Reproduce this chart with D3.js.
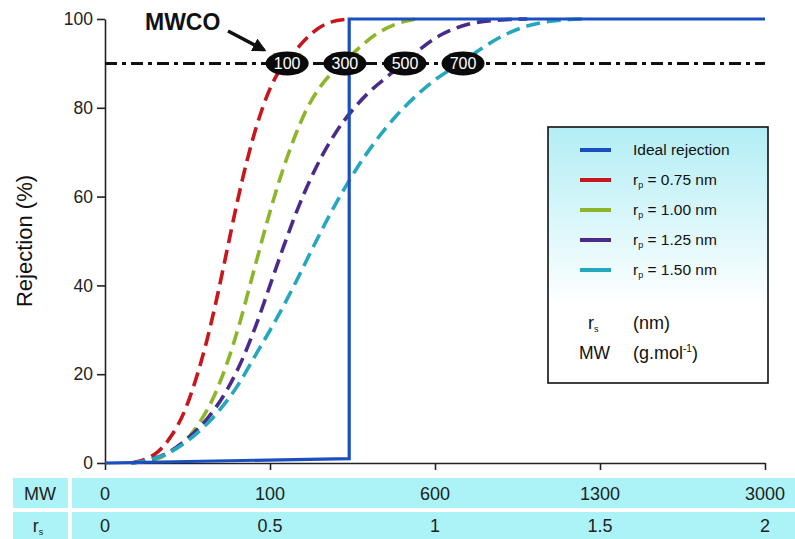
<!DOCTYPE html>
<html><head><meta charset="utf-8">
<script src="https://cdn.jsdelivr.net/npm/d3@7"></script>
<style>body{margin:0;background:#fff}svg{display:block}text{font-family:"Liberation Sans",Arial,sans-serif}</style>
</head><body>
<svg id="c" width="795" height="539"></svg>
<script>
// ---- data ----
const rsTicks = [0, 0.5, 1, 1.5, 2];
const mwTicks = [0, 100, 600, 1300, 3000];
const yTicks = [0, 20, 40, 60, 80, 100];
const ideal = [[0,0],[0.74,1],[0.74,100],[2,100]];
const redR = [0.08,0.12,0.16,0.20,0.24,0.28,0.31,0.34,0.37,0.40,0.43,0.46,0.49,0.52,0.552,0.59,0.63,0.68,0.74];
const redV = [0,0.8,2.5,6,11.5,20,28,37.5,48,58.5,68,76,82.5,87.3,90.5,94,97,99.2,100];
const greenR = [0.08,0.13,0.17,0.21,0.25,0.29,0.33,0.37,0.41,0.45,0.49,0.53,0.57,0.61,0.65,0.69,0.727,0.77,0.82,0.88,0.945];
const greenV = [0,0.5,1.3,3,5.5,9.5,15,22.5,32,43,54,64,72.5,79.5,84.5,88,90.5,93.5,96.5,98.8,100];
const purpleR = [0.08,0.14,0.19,0.25,0.31,0.37,0.42,0.46,0.50,0.54,0.58,0.62,0.66,0.70,0.75,0.80,0.855,0.909,0.96,1.02,1.10,1.20,1.28];
const purpleV = [0,0.8,2.3,5.5,10,16.5,24,31.5,40,48.5,56.5,63.5,69.5,74.5,79.5,83.5,87,90.3,93.5,96.5,98.8,99.8,100];
const cyanR = [0.08,0.15,0.21,0.28,0.34,0.40,0.46,0.52,0.58,0.64,0.70,0.76,0.82,0.88,0.94,1.0,1.05,1.085,1.14,1.2,1.27,1.35,1.45];
const cyanV = [0,1,3,6.8,11.3,17.2,24.8,32.5,41,50,58.5,66,72.5,78,82.5,86.3,88.8,90.5,93.3,96,98.2,99.5,100];
const mwcoLabels = ["100","300","500","700"];
const mwcoRs = [0.552, 0.727, 0.909, 1.085];
const mwcoLevel = 90;
const legendLabels = ["Ideal rejection","0.75","1.00","1.25","1.50"];
const colors = ["#1b4fbf","#c8161d","#8db52a","#4a2a8a","#26a7c0"];

// ---- chart ----
const svg = d3.select("#c");
const x = d3.scaleLinear().domain([0,2]).range([105,765]);
const y = d3.scaleLinear().domain([0,100]).range([463,19]);
const defs = svg.append("defs");

// bottom band
const band = svg.append("g");
[[478,508],[512,539]].forEach(([t,b])=>{
  band.append("rect").attr("x",13).attr("y",t).attr("width",55).attr("height",b-t).attr("fill","#abf3f7");
  band.append("rect").attr("x",72).attr("y",t).attr("width",723).attr("height",b-t).attr("fill","#abf3f7");
});
band.append("text").attr("x",40).attr("y",500).attr("text-anchor","middle").attr("font-size",18).attr("fill","#222").text("MW");
const rsLab = band.append("text").attr("x",38).attr("y",532).attr("text-anchor","middle").attr("font-size",18).attr("fill","#222");
rsLab.append("tspan").text("r");
rsLab.append("tspan").attr("font-size",9).attr("dy",3).text("s");
band.selectAll(".mw").data(rsTicks).join("text").attr("x",d=>x(d)).attr("y",500).attr("text-anchor","middle")
  .attr("font-size",18).attr("fill","#222").text((d,i)=>mwTicks[i]);
band.selectAll(".rs").data(rsTicks).join("text").attr("x",d=>x(d)).attr("y",532).attr("text-anchor","middle")
  .attr("font-size",18).attr("fill","#222").text(d=>d);

// axes
const gx = svg.append("g").attr("transform","translate(0,463)")
  .call(d3.axisBottom(x).tickValues(rsTicks).tickSize(7).tickSizeOuter(0).tickFormat(""));
const gy = svg.append("g").attr("transform","translate(105,0)")
  .call(d3.axisLeft(y).tickValues(yTicks).tickSize(8).tickSizeOuter(0).tickPadding(4));
[gx,gy].forEach(g=>{g.selectAll("path,line").attr("stroke","#222").attr("stroke-width",1.6);});
gy.selectAll("text").attr("font-size",17.5).attr("fill","#222").attr("font-family","Liberation Sans, Arial, sans-serif");
svg.append("text").attr("transform","translate(32,241) rotate(-90)").attr("text-anchor","middle")
  .attr("font-size",22).attr("fill","#111").text("Rejection (%)");

// 90% dash-dot line
svg.append("line").attr("x1",x(0)).attr("x2",x(2)).attr("y1",y(mwcoLevel)).attr("y2",y(mwcoLevel))
  .attr("stroke","#111").attr("stroke-width",3).attr("stroke-dasharray","12,5,4,5");

// curves
const line = d3.line().x(d=>x(d[0])).y(d=>y(d[1])).curve(d3.curveMonotoneX);
const series = [[redR,redV],[greenR,greenV],[purpleR,purpleV],[cyanR,cyanV]];
series.forEach(([rs,v],i)=>{
  const pts = rs.map((r,k)=>[r,v[k]]);
  svg.append("path").datum(pts).attr("d",line).attr("fill","none").attr("stroke",colors[i+1])
    .attr("stroke-width",3.6).attr("stroke-dasharray","14,7");
});
// ideal
svg.append("path").datum(ideal).attr("d",d3.line().x(d=>x(d[0])).y(d=>y(d[1])))
  .attr("fill","none").attr("stroke",colors[0]).attr("stroke-width",3.2);

// MWCO ellipses
const eg = svg.selectAll(".mw-e").data(mwcoRs).join("g").attr("transform",d=>`translate(${x(d)},${y(mwcoLevel)})`);
eg.append("ellipse").attr("rx",21.5).attr("ry",12).attr("fill","#0a0a0a");
eg.append("text").attr("y",6).attr("text-anchor","middle").attr("font-size",16).attr("fill","#fff")
  .attr("font-family","Open Sans, sans-serif").text((d,i)=>mwcoLabels[i]);

// MWCO label + arrow
defs.append("marker").attr("id","ah").attr("viewBox","0 0 10 10").attr("refX",8).attr("refY",5)
  .attr("markerWidth",4).attr("markerHeight",4).attr("orient","auto")
  .append("path").attr("d","M0,0L10,5L0,10z").attr("fill","#111");
svg.append("text").attr("x",145).attr("y",30).attr("font-size",23).attr("font-weight","bold").attr("fill","#111").text("MWCO");
svg.append("line").attr("x1",228).attr("y1",31).attr("x2",264).attr("y2",50)
  .attr("stroke","#111").attr("stroke-width",3.5).attr("marker-end","url(#ah)");

// legend
const grad = defs.append("linearGradient").attr("id","lg").attr("x1",0).attr("y1",0).attr("x2",0).attr("y2",1);
grad.append("stop").attr("offset",0).attr("stop-color","#b2eef5");
grad.append("stop").attr("offset",0.7).attr("stop-color","#ffffff");
const lg = svg.append("g");
lg.append("rect").attr("x",548).attr("y",127).attr("width",220).attr("height",256).attr("fill","url(#lg)")
  .attr("stroke","#111").attr("stroke-width",1.6);
const rowsY = [150,180,210,240,270];
legendLabels.forEach((l,i)=>{
  lg.append("line").attr("x1",580).attr("x2",611).attr("y1",rowsY[i]).attr("y2",rowsY[i])
    .attr("stroke",colors[i]).attr("stroke-width",4);
  const t = lg.append("text").attr("x",633).attr("y",rowsY[i]+5).attr("font-size",15.5).attr("fill","#111");
  if(i===0){t.text(l);} else {
    t.append("tspan").text("r");
    t.append("tspan").attr("font-size",9).attr("dy",3).text("p");
    t.append("tspan").attr("dy",-3).text(" = "+l+" nm");
  }
});
const t1 = lg.append("text").attr("x",588).attr("y",329).attr("font-size",18).attr("fill","#111");
t1.append("tspan").text("r"); t1.append("tspan").attr("font-size",9).attr("dy",3).text("s");
lg.append("text").attr("x",633).attr("y",329).attr("font-size",18).attr("fill","#111").text("(nm)");
lg.append("text").attr("x",579).attr("y",359).attr("font-size",17.5).attr("fill","#111").text("MW");
const t2 = lg.append("text").attr("x",633).attr("y",359).attr("font-size",18).attr("fill","#111");
t2.append("tspan").text("(g.mol");
t2.append("tspan").attr("font-size",10).attr("dy",-7).text("-1");
t2.append("tspan").attr("dy",7).text(")");
</script>
</body></html>
